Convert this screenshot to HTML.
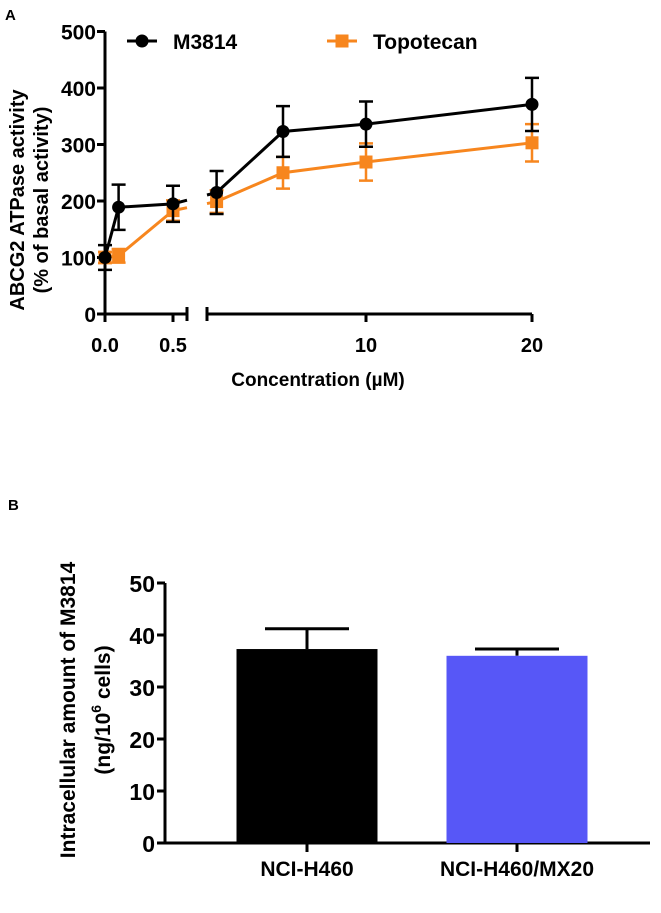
<!DOCTYPE html>
<html><head><meta charset="utf-8"><style>
html,body{margin:0;padding:0;background:#fff;}
svg text{font-family:"Liberation Sans",sans-serif;font-weight:bold;}
</style></head><body>
<svg width="661" height="908" viewBox="0 0 661 908" xmlns="http://www.w3.org/2000/svg">
<g id="A"></g>
<g id="B"></g>
</svg>
<script>
// Panel A data
const concLow = [0, 0.1, 0.5];
const concHigh = [1, 5, 10, 20];
const m3814Low = [100, 189, 195];
const m3814LowErr = [22, 40, 32];
const m3814High = [215, 323, 336, 371];
const m3814HighErr = [38, 45, 40, 47];
const topoLow = [100, 103, 183];
const topoLowErr = [10, 12, 18];
const topoHigh = [199, 250, 269, 303];
const topoHighErr = [20, 28, 33, 33];
const yTicksA = [0, 100, 200, 300, 400, 500];
const xTicksLow = [0, 0.5];
const xTickLabelsLow = ["0.0", "0.5"];
const xTicksHigh = [10, 20];
const xTickLabelsHigh = ["10", "20"];
// Panel B data
const cellLines = ["NCI-H460", "NCI-H460/MX20"];
const amounts = [37.3, 36.0];
const amountErr = [3.9, 1.3];
const yTicksB = [0, 10, 20, 30, 40, 50];

const NS = "http://www.w3.org/2000/svg";
function mk(parent, tag, attrs, text) {
  const e = document.createElementNS(NS, tag);
  for (const k in attrs) e.setAttribute(k, attrs[k]);
  if (text !== undefined) e.textContent = text;
  parent.appendChild(e);
  return e;
}
const A = document.getElementById('A');
const B = document.getElementById('B');

// ---- Panel A scales
const yA = v => 314 - v * 0.565;
const xL = v => 105 + v * 136;
const xH = v => 200 + (v) * 16.6;
const segLowEnd = 187, segHighStart = 207;

let t = mk(A, 'text', {x: 5, y: 20, 'font-size': 15}, 'A');



let ax = mk(A, 'path', {d: `M105 ${yA(500)} V${yA(0)} M105 ${yA(0)} H${segLowEnd} M${segLowEnd} ${yA(0)-7} V${yA(0)+7} M${segHighStart} ${yA(0)-7} V${yA(0)+7} M${segHighStart} ${yA(0)} H${xH(20)}`, stroke: '#000', 'stroke-width': 3, fill: 'none'});


yTicksA.forEach(v => {
  let l = mk(A, 'line', {x1: 97, x2: 105, y1: yA(v), y2: yA(v), stroke: '#000', 'stroke-width': 3});
  
  
  let tx = mk(A, 'text', {x: 96, y: yA(v) + 8, 'font-size': 21, 'text-anchor': 'end'}, v);
  
  
});
xTicksLow.forEach((v, i) => {
  let l = mk(A, 'line', {x1: xL(v), x2: xL(v), y1: yA(0), y2: yA(0) + 8, stroke: '#000', 'stroke-width': 3});
  
  
  let tx = mk(A, 'text', {x: xL(v), y: 352, 'font-size': 20, 'text-anchor': 'middle'}, xTickLabelsLow[i]);
  
  
});
xTicksHigh.forEach((v, i) => {
  let l = mk(A, 'line', {x1: xH(v), x2: xH(v), y1: yA(0), y2: yA(0) + 8, stroke: '#000', 'stroke-width': 3});
  
  
  let tx = mk(A, 'text', {x: xH(v), y: 352, 'font-size': 20, 'text-anchor': 'middle'}, xTickLabelsHigh[i]);
  
  
});
t = mk(A, 'text', {x: 318, y: 386, 'font-size': 19, 'text-anchor': 'middle'}, 'Concentration (µM)');


t = mk(A, 'text', {transform: 'translate(24,200) rotate(-90)', 'font-size': 20, 'text-anchor': 'middle'}, 'ABCG2 ATPase activity');


t = mk(A, 'text', {transform: 'translate(48,200) rotate(-90)', 'font-size': 20, 'text-anchor': 'middle'}, '(% of basal activity)');



function series(name, color, lowV, lowE, highV, highE, marker) {
  const g = mk(A, 'g', {});
  
  
  let pts = concLow.map((c, i) => [xL(c), yA(lowV[i])]);
  const last = pts[pts.length - 1];
  const nx = xH(concHigh[0]), ny = yA(highV[0]);
  const f = (segLowEnd - last[0]) / (nx - last[0]);
  pts.push([segLowEnd, last[1] + f * (ny - last[1])]);
  let p = mk(g, 'polyline', {points: pts.map(q => q.join(',')).join(' '), fill: 'none', stroke: color, 'stroke-width': 3});
  
  
  const first = [xH(concHigh[0]), yA(highV[0])];
  const f2 = (first[0] - segHighStart) / (first[0] - last[0]);
  let hp = [[segHighStart, first[1] + f2 * (last[1] - first[1])]].concat(concHigh.map((c, i) => [xH(c), yA(highV[i])]));
  p = mk(g, 'polyline', {points: hp.map(q => q.join(',')).join(' '), fill: 'none', stroke: color, 'stroke-width': 3});
  
  
  const all = concLow.map((c, i) => [xL(c), lowV[i], lowE[i]]).concat(concHigh.map((c, i) => [xH(c), highV[i], highE[i]]));
  all.forEach(([x, v, e]) => {
    let eb = mk(g, 'path', {d: `M${x} ${yA(v + e)} V${yA(v - e)} M${x - 7} ${yA(v + e)} H${x + 7} M${x - 7} ${yA(v - e)} H${x + 7}`, stroke: color, 'stroke-width': 2.5, fill: 'none'});
    
    
    let m;
    if (marker === 'circle') m = mk(g, 'circle', {cx: x, cy: yA(v), r: 6.5, fill: color});
    else m = mk(g, 'rect', {x: x - 6.5, y: yA(v) - 6.5, width: 13, height: 13, fill: color});
    
    
  });
}
series('topotecan', '#f7861e', topoLow, topoLowErr, topoHigh, topoHighErr, 'square');
series('m3814', '#000', m3814Low, m3814LowErr, m3814High, m3814HighErr, 'circle');

let lg = mk(A, 'g', {});


mk(lg, 'line', {x1: 127, x2: 157, y1: 41, y2: 41, stroke: '#000', 'stroke-width': 3});
mk(lg, 'circle', {cx: 142, cy: 41, r: 6.5, fill: '#000'});
t = mk(lg, 'text', {x: 173, y: 49, 'font-size': 21}, 'M3814');


mk(lg, 'line', {x1: 327, x2: 357, y1: 41, y2: 41, stroke: '#f7861e', 'stroke-width': 3});
mk(lg, 'rect', {x: 335.5, y: 34.5, width: 13, height: 13, fill: '#f7861e'});
t = mk(lg, 'text', {x: 373, y: 49, 'font-size': 21}, 'Topotecan');



// ---- Panel B
const yB = v => 843 - v * 5.2;
const barCenters = [307, 517];
const barW = 141;
t = mk(B, 'text', {x: 8, y: 510, 'font-size': 15}, 'B');


ax = mk(B, 'path', {d: `M165 ${yB(50)} V${yB(0)} M157 ${yB(0)} H650`, stroke: '#000', 'stroke-width': 3, fill: 'none'});


yTicksB.forEach(v => {
  let l = mk(B, 'line', {x1: 157, x2: 165, y1: yB(v), y2: yB(v), stroke: '#000', 'stroke-width': 3});
  
  
  let tx = mk(B, 'text', {x: 155, y: yB(v) + 9, 'font-size': 23, 'text-anchor': 'end'}, v);
  
  
});
const colors = ['#000', '#5757f7'];
amounts.forEach((v, i) => {
  const cx = barCenters[i];
  let eb = mk(B, 'path', {d: `M${cx} ${yB(v)} V${yB(v + amountErr[i])} M${cx - 42} ${yB(v + amountErr[i])} H${cx + 42}`, stroke: '#000', 'stroke-width': 3, fill: 'none'});
  
  
  let r = mk(B, 'rect', {x: cx - barW / 2, y: yB(v), width: barW, height: yB(0) - yB(v), fill: colors[i]});
  
  
  let l = mk(B, 'line', {x1: cx, x2: cx, y1: yB(0), y2: yB(0) + 9, stroke: '#000', 'stroke-width': 3});
  
  
  let tx = mk(B, 'text', {x: cx, y: 876, 'font-size': 21, 'text-anchor': 'middle'}, cellLines[i]);
  
  
});
t = mk(B, 'text', {transform: 'translate(75,710) rotate(-90)', 'font-size': 21, 'text-anchor': 'middle'}, 'Intracellular amount of M3814');


t = mk(B, 'text', {transform: 'translate(110,710) rotate(-90)', 'font-size': 21, 'text-anchor': 'middle'});


mk(t, 'tspan', {}, '(ng/10');
mk(t, 'tspan', {dy: -9, 'font-size': 14}, '6');
mk(t, 'tspan', {dy: 9}, ' cells)');
</script>
</body></html>
